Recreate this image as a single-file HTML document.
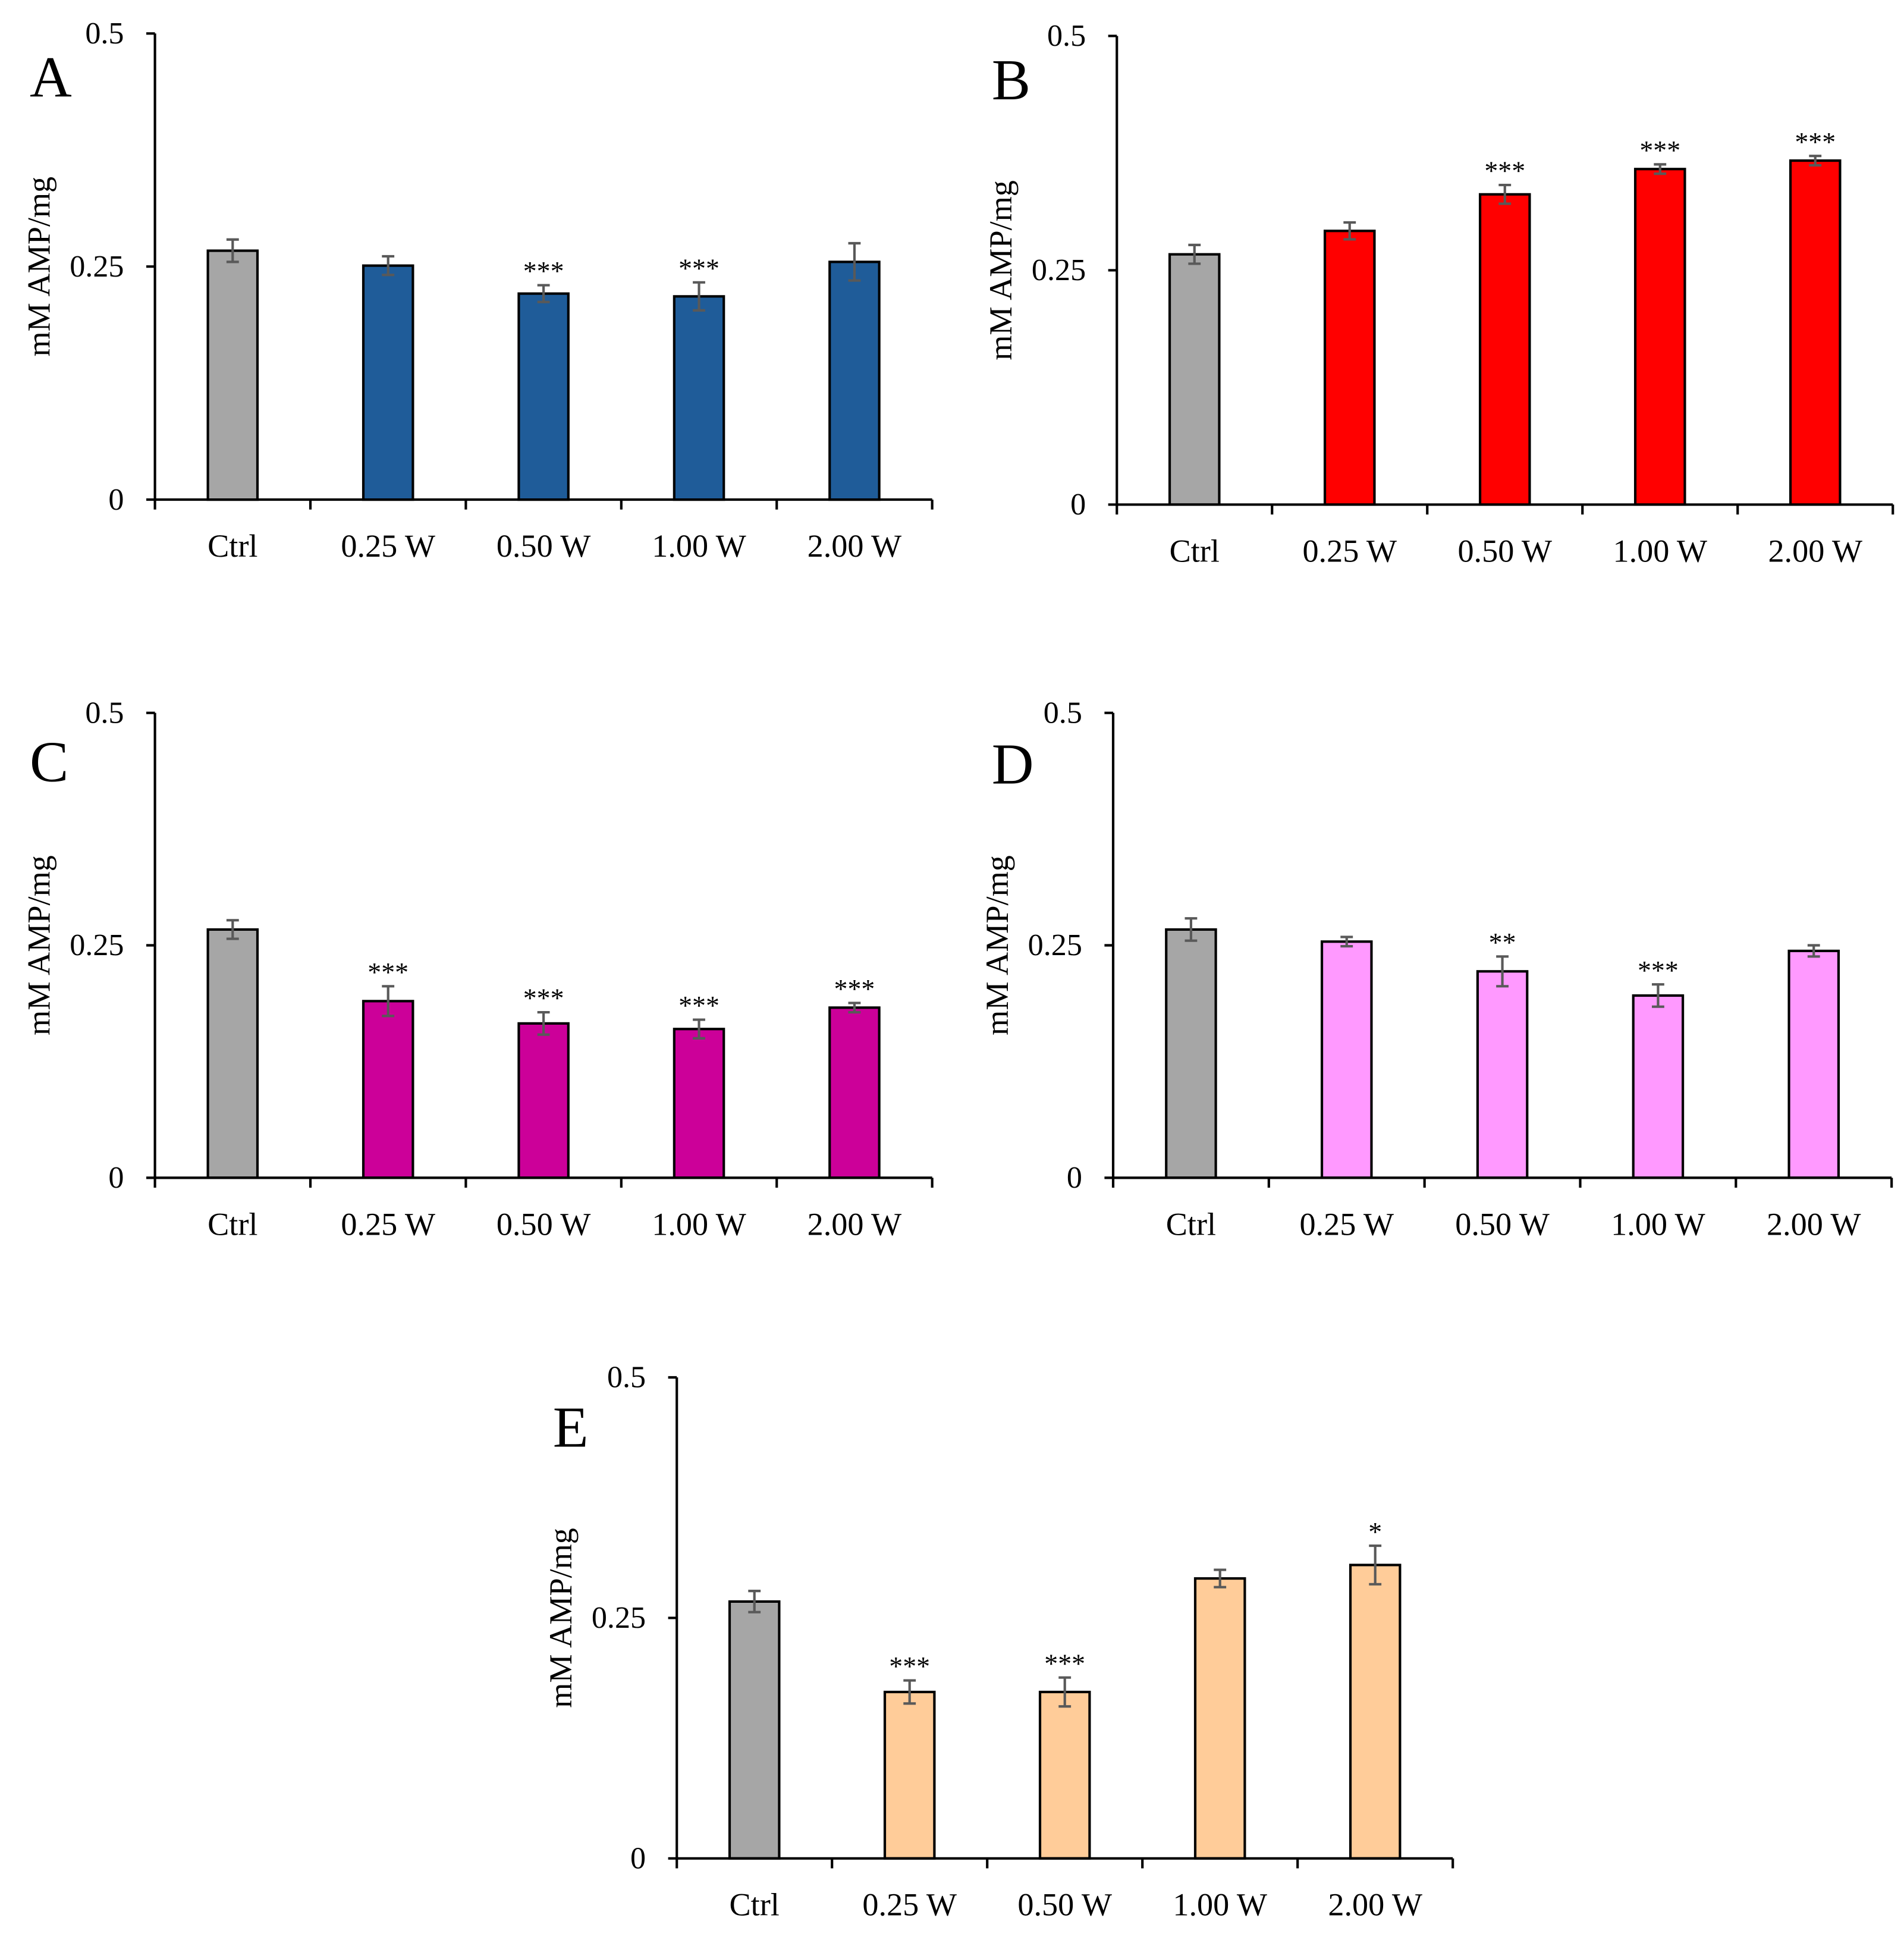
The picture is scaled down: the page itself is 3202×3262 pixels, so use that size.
<!DOCTYPE html>
<html><head><meta charset="utf-8"><style>
html,body{margin:0;padding:0;background:#fff;}
svg{display:block;}
text{font-family:"Liberation Serif",serif;fill:#000;}
</style></head><body>
<svg id="fig" width="3202" height="3262" viewBox="0 0 1536 1564.8" preserveAspectRatio="none" xmlns="http://www.w3.org/2000/svg"></svg>
<script>
const categories = ["Ctrl","0.25 W","0.50 W","1.00 W","2.00 W"];
const yTicks = [0,0.25,0.5];
const yTickLabels = ["0","0.25","0.5"];
const valuesA = [0.267,0.251,0.221,0.218,0.255];
const errorsA = [0.012,0.010,0.009,0.015,0.020];
const sigA = ["","","***","***",""];
const valuesB = [0.267,0.292,0.331,0.358,0.367];
const errorsB = [0.010,0.009,0.010,0.005,0.005];
const sigB = ["","","***","***","***"];
const valuesC = [0.267,0.190,0.166,0.160,0.183];
const errorsC = [0.010,0.016,0.012,0.010,0.005];
const sigC = ["","***","***","***","***"];
const valuesD = [0.267,0.254,0.222,0.196,0.244];
const errorsD = [0.012,0.005,0.016,0.012,0.006];
const sigD = ["","","**","***",""];
const valuesE = [0.267,0.173,0.173,0.291,0.305];
const errorsE = [0.011,0.012,0.015,0.009,0.020];
const sigE = ["","***","***","","*"];

const NS="http://www.w3.org/2000/svg";
const svg=document.getElementById('fig');
function mk(tag,attrs,parent){const e=document.createElementNS(NS,tag);for(const k in attrs)e.setAttribute(k,attrs[k]);(parent||svg).appendChild(e);return e;}

const panels=[
 {id:"a",letter:"A",x0:125,x1:752,yTop:27,yZero:403,lx:24,ly:78,vals:valuesA,errs:errorsA,sig:sigA,color:"#1f5c99"},
 {id:"b",letter:"B",x0:901,x1:1527,yTop:29,yZero:407,lx:800,ly:80,vals:valuesB,errs:errorsB,sig:sigB,color:"#ff0000"},
 {id:"c",letter:"C",x0:125,x1:752,yTop:575,yZero:950,lx:24,ly:630,vals:valuesC,errs:errorsC,sig:sigC,color:"#cc0099"},
 {id:"d",letter:"D",x0:898,x1:1526,yTop:575,yZero:950,lx:800,ly:632,vals:valuesD,errs:errorsD,sig:sigD,color:"#ff99ff"},
 {id:"e",letter:"E",x0:546,x1:1172,yTop:1111,yZero:1499,lx:446,ly:1167,vals:valuesE,errs:errorsE,sig:sigE,color:"#ffcc99"}
];

panels.forEach(p=>{
  const g=mk('g',{});
  
  
  const ys=v=>p.yZero-(v/0.5)*(p.yZero-p.yTop);
  const cw=(p.x1-p.x0)/categories.length;
  const xc=i=>p.x0+cw*(i+0.5);
  const bw=40;
  const L=mk('text',{x:p.lx,y:p.ly,'font-size':47},g);L.textContent=p.letter;
  
  
  const cy=(p.yTop+p.yZero)/2;
  const T=mk('text',{x:0,y:0,'font-size':26,'text-anchor':'middle',transform:`translate(${p.x0-85},${cy}) rotate(-90)`},g);
  T.textContent="mM AMP/mg";
  
  
  p.vals.forEach((v,i)=>{
    const r=mk('rect',{x:xc(i)-bw/2,y:ys(v),width:bw,height:p.yZero-ys(v),fill:i===0?"#a6a6a6":p.color,stroke:"#000","stroke-width":2},g);
    
    
    const e=p.errs[i],yh=ys(v+e),yl=ys(v-e);
    const eb=mk('path',{d:`M${xc(i)},${yh}V${yl}M${xc(i)-5},${yh}H${xc(i)+5}M${xc(i)-5},${yl}H${xc(i)+5}`,stroke:"#595959","stroke-width":2,fill:"none"},g);
    
    
    if(p.sig[i]){
      const s=mk('text',{x:xc(i),y:yh-4,'font-size':22,'text-anchor':'middle'},g);s.textContent=p.sig[i];
      
      
    }
    const t=mk('text',{x:xc(i),y:p.yZero+46,'font-size':26,'text-anchor':'middle'},g);t.textContent=categories[i];
    
    
  });
  const ax=mk('path',{d:`M${p.x0},${p.yTop}V${p.yZero}M${p.x0},${p.yZero}H${p.x1}`,stroke:"#000","stroke-width":2,fill:"none"},g);
  
  
  let tk="";
  yTicks.forEach(v=>{tk+=`M${p.x0-7},${ys(v)}H${p.x0}`;});
  for(let i=0;i<=categories.length;i++){tk+=`M${p.x0+cw*i},${p.yZero}v8`;}
  const tp=mk('path',{d:tk,stroke:"#000","stroke-width":2},g);
  
  
  yTicks.forEach((v,i)=>{
    const t=mk('text',{x:p.x0-25,y:ys(v)+8,'font-size':25,'text-anchor':'end'},g);t.textContent=yTickLabels[i];
    
    
  });
});
</script>
</body></html>
